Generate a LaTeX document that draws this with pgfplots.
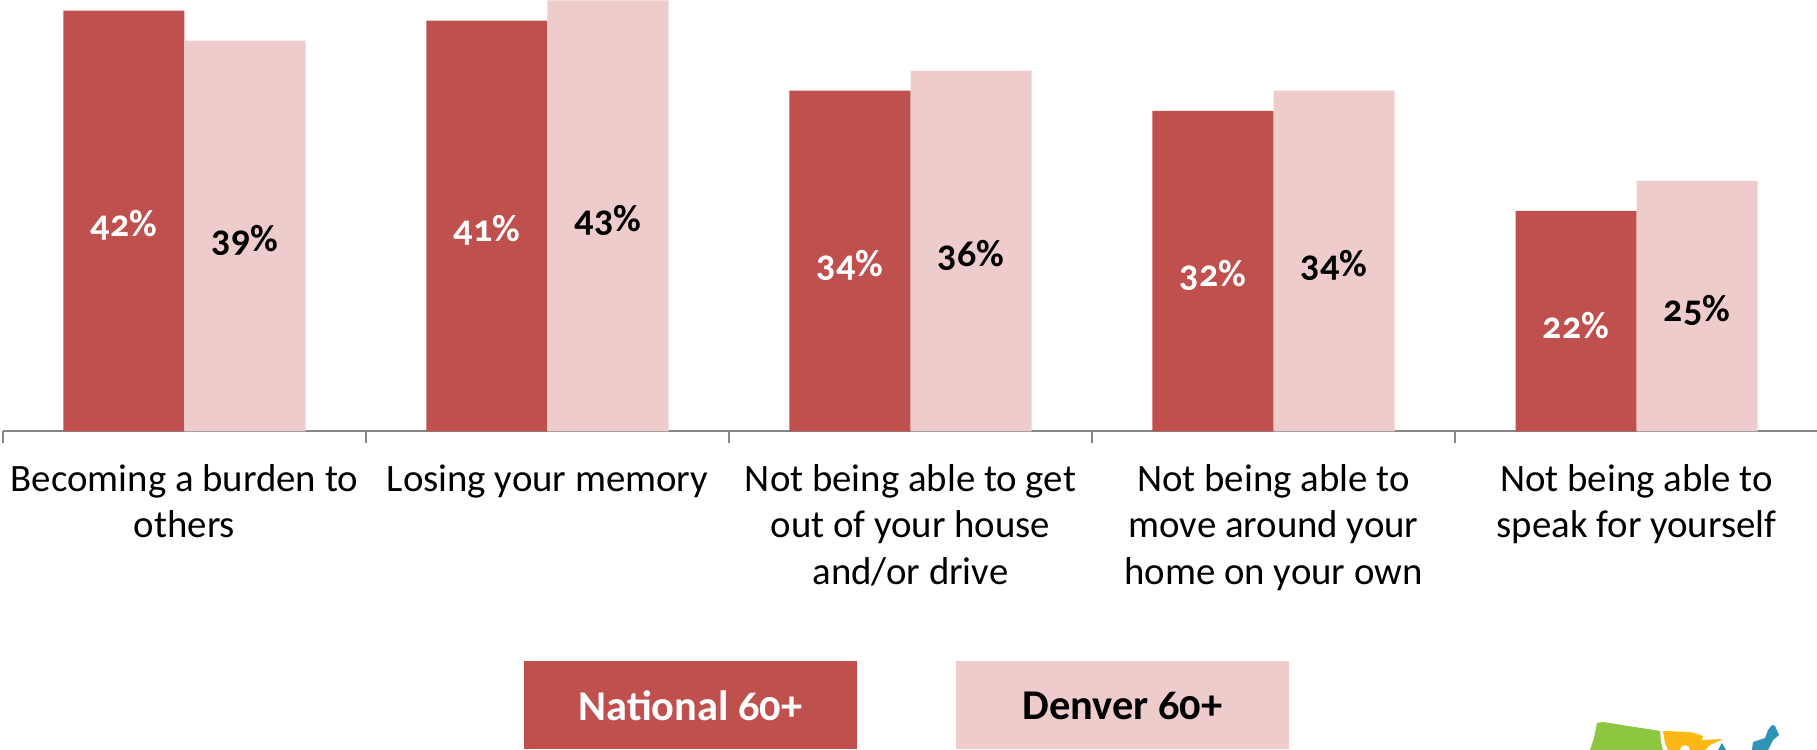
\documentclass[border=0pt]{standalone}
\usepackage{pgfplots}
\usepackage{pgfplotstable}
\pgfplotsset{compat=1.18}
\usepackage{fontspec}
\setmainfont[Numbers=OldStyle]{Carlito}
\definecolor{natc}{HTML}{C0504D}
\definecolor{denc}{HTML}{EFCCCC}
\definecolor{axc}{HTML}{868686}
\definecolor{mapg}{HTML}{8DC63F}
\definecolor{mapo}{HTML}{FDB813}
\definecolor{mapb}{HTML}{2E94B5}
\pgfplotstableread{
x nat den
0 42 39
1 41 43
2 34 36
3 32 34
4 22 25
}\vals
\begin{document}
\begin{tikzpicture}[x=0.5pt,y=0.5pt]
\path[use as bounding box] (0,0) rectangle (1817,750);
\begin{scope}
\clip (0,0) rectangle (1817,750);
\begin{axis}[
  at={(1.5pt,159.25pt)}, anchor=south west,
  scale only axis, width=907.5pt, height=215.75pt,
  xmin=-0.5, xmax=4.5, ymin=0, ymax=43.05,
  axis y line=none, axis x line=bottom,
  x axis line style={-,draw=axc,line width=1pt},
  xtick={0,1,2,3,4},
  xticklabels={{Becoming a burden to\\others},{Losing your memory},{Not being able to get\\out of your house\\and/or drive},{Not being able to\\move around your\\home on your own},{Not being able to\\speak for yourself}},
  major tick length=0pt,
  minor xtick={-0.5,0.5,1.5,2.5,3.5,4.5},
  minor tick length=6pt,
  tick style={draw=axc,line width=1pt},
  tick align=outside,
  x tick label style={align=center,font=\fontsize{19.4}{23.2}\selectfont,yshift=-13pt,anchor=north},
  ybar=0pt, bar width=60.5pt,
  clip=false,
  visualization depends on=y \as \rawy,
  nodes near coords={\pgfplotspointmeta\%},
  point meta=explicit symbolic,
  nodes near coords style={anchor=center,yshift=-2pt,font=\fontsize{19}{23}\selectfont\bfseries,shift={(axis direction cs:0,-\rawy/2)}},
]
\addplot[fill=natc,draw=none,nodes near coords style={text=white}] table[x=x,y=nat,meta=nat]{\vals};
\addplot[fill=denc,draw=none,nodes near coords style={text=black}] table[x=x,y=den,meta=den]{\vals};
\end{axis}
\fill[natc] (524,1) rectangle (857,89);
\fill[denc] (956,1) rectangle (1289,89);
\node[white,font=\fontsize{21.2}{25}\selectfont\bfseries] at (690.5,44) {National 60+};
\node[black,font=\fontsize{21.2}{25}\selectfont\bfseries] at (1122.5,44) {Denver 60+};
\fill[mapg] (1590,0) -- (1594,12) -- (1597,27) -- (1603,28) -- (1660,19) -- (1661,7) -- (1663,0) -- cycle;
\fill[mapo] (1668,0) -- (1665,7) -- (1663,19) -- (1690,18) -- (1703,14) -- (1702,10) -- (1723,11) -- (1710,5) -- (1705,0) -- (1690,0) arc (0:180:5) -- cycle;
\fill[mapb] (1718,0) -- (1722,7) -- (1726,0) -- cycle;
\fill[mapb] (1752,0) -- (1753,8) -- (1765,12) -- (1768,20) -- (1772,25) -- (1775,24) -- (1779,15) -- (1773,10) -- (1768,0) -- cycle;
\end{scope}
\end{tikzpicture}
\end{document}
